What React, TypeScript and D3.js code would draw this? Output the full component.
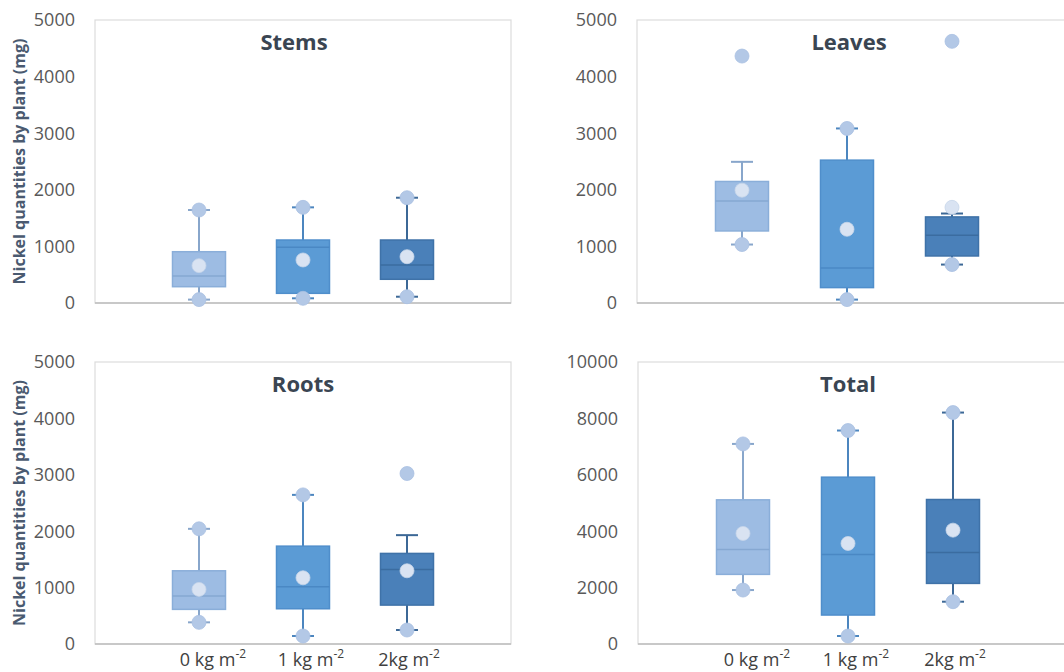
import React from "react";
import * as d3 from "d3";

const categories = ["0 kg m", "1 kg m", "2kg m"];
const catSup = ["-2", "-2", "-2"];

// [min, q1, median, q3, max]
const stemsStats = [[60, 288, 477, 906, 1643], [83, 171, 984, 1113, 1690], [111, 419, 671, 1113, 1860]];
const stemsMeans = [660, 760, 818];
const stemsPoints = [[60, 1643], [83, 1690], [111, 1860]];

const leavesStats = [[1033, 1273, 1804, 2147, 2494], [60, 272, 619, 2524, 3084], [679, 831, 1197, 1521, 1581]];
const leavesMeans = [1993, 1303, 1690];
const leavesPoints = [[1033, 4363], [60, 3084], [679, 4623]];

const rootsStats = [[384, 614, 850, 1298, 2042], [142, 625, 1015, 1735, 2644], [248, 690, 1322, 1606, 1930]];
const rootsMeans = [968, 1174, 1298];
const rootsPoints = [[384, 2042], [142, 2644], [248, 3023]];

const totalStats = [[1913, 2469, 3354, 5112, 7095], [283, 1027, 3177, 5916, 7570], [1500, 2149, 3247, 5124, 8207]];
const totalMeans = [3921, 3566, 4038];
const totalPoints = [[1913, 7095], [283, 7570], [1500, 8207]];

const ticks5000 = [0, 1000, 2000, 3000, 4000, 5000];
const ticks10000 = [0, 2000, 4000, 6000, 8000, 10000];

const titles = ["Stems", "Leaves", "Roots", "Total"];
const yTitle = "Nickel quantities by plant (mg)";

const boxFill = ["#9dbce3", "#5b9bd5", "#4a80b9"];
const boxStroke = ["#8aaed9", "#4f8ecb", "#3f72a8"];
const medianStroke = ["#86a8d2", "#4a88c4", "#3b6ca0"];
const whiskerStroke = ["#88a6cb", "#4c86bf", "#3c6896"];

const FONT = "'Open Sans', 'Noto Sans', sans-serif";

type PanelProps = {
  left: number; top: number; bottom: number; width: number; extra: number;
  max: number; ticks: number[]; title: string;
  stats: number[][]; means: number[]; points: number[][];
  showX: boolean; showYTitle: boolean; titleDx: number;
};

function Panel(p: PanelProps) {
  const y = d3.scaleLinear().domain([0, p.max]).range([p.bottom, p.top]);
  const x = d3.scaleLinear().domain([0, 4]).range([p.left, p.left + p.width]);
  const bw = 53;
  const cap = 22;
  const r = 7;
  return (
    <g>
      <rect x={p.left} y={p.top} width={p.width + p.extra} height={p.bottom - p.top} fill="none" stroke="#dcdcdc" strokeWidth={1.2} />
      <line x1={p.left} x2={p.left + p.width + p.extra} y1={p.bottom} y2={p.bottom} stroke="#bcbcbc" strokeWidth={1.6} />
      {p.ticks.map((t) => (
        <text key={t} x={p.left - 20} y={y(t)} dy="0.36em" textAnchor="end" fontFamily={FONT} fontSize={18} fill="#595959">{t}</text>
      ))}
      <text x={(p.left + p.left + p.width) / 2 + p.titleDx} y={p.top + 30} textAnchor="middle" fontFamily={FONT} fontWeight="bold" fontSize={22} fill="#3a4552">{p.title}</text>
      {p.showYTitle && (
        <text transform={`translate(${19},${(p.top + p.bottom) / 2}) rotate(-90)`} textAnchor="middle" dy="0.35em" fontFamily={FONT} fontWeight="bold" fontSize={16} fill="#4a5a70">{yTitle}</text>
      )}
      {p.stats.map((s, i) => {
        const cx = x(i + 1);
        const [mn, q1, md, q3, mx] = s;
        return (
          <g key={i}>
            <line x1={cx} x2={cx} y1={y(mx)} y2={y(q3)} stroke={whiskerStroke[i]} strokeWidth={2} />
            <line x1={cx} x2={cx} y1={y(q1)} y2={y(mn)} stroke={whiskerStroke[i]} strokeWidth={2} />
            <line x1={cx - cap / 2} x2={cx + cap / 2} y1={y(mx)} y2={y(mx)} stroke={whiskerStroke[i]} strokeWidth={2} />
            <line x1={cx - cap / 2} x2={cx + cap / 2} y1={y(mn)} y2={y(mn)} stroke={whiskerStroke[i]} strokeWidth={2} />
            <rect x={cx - bw / 2} y={y(q3)} width={bw} height={y(q1) - y(q3)} fill={boxFill[i]} stroke={boxStroke[i]} strokeWidth={1.5} />
            <line x1={cx - bw / 2} x2={cx + bw / 2} y1={y(md)} y2={y(md)} stroke={medianStroke[i]} strokeWidth={1.5} />
            {p.points[i].map((v, j) => (
              <circle key={j} cx={cx} cy={y(v)} r={r} fill="#b3c8e6" stroke="#a9c0e2" strokeWidth={0.8} />
            ))}
            <circle cx={cx} cy={y(p.means[i])} r={r} fill="#d9e3f2" stroke="#c7d5ea" strokeWidth={0.8} />
            {p.showX && (
              <text x={cx + 14 - i * 6} y={666} textAnchor="middle" fontFamily={FONT} fontSize={18} fill="#404040">
                {categories[i]}
                <tspan dy={-8} fontSize={12}>{catSup[i]}</tspan>
              </text>
            )}
          </g>
        );
      })}
    </g>
  );
}

export default function App() {
  return (
    <svg width={1064} height={672} style={{ position: "absolute", left: 0, top: 0, background: "#ffffff" }}>
      <rect x={0} y={0} width={1064} height={672} fill="#ffffff" />
      <Panel left={95} top={20} bottom={303} width={416} extra={0} max={5000} ticks={ticks5000} title={titles[0]}
        stats={stemsStats} means={stemsMeans} points={stemsPoints} showX={false} showYTitle={true} titleDx={-9} />
      <Panel left={637} top={20} bottom={303} width={420} extra={40} max={5000} ticks={ticks5000} title={titles[1]}
        stats={leavesStats} means={leavesMeans} points={leavesPoints} showX={false} showYTitle={false} titleDx={2} />
      <Panel left={95} top={362} bottom={644} width={416} extra={0} max={5000} ticks={ticks5000} title={titles[2]}
        stats={rootsStats} means={rootsMeans} points={rootsPoints} showX={true} showYTitle={true} titleDx={0} />
      <Panel left={638} top={362} bottom={644} width={420} extra={40} max={10000} ticks={ticks10000} title={titles[3]}
        stats={totalStats} means={totalMeans} points={totalPoints} showX={true} showYTitle={false} titleDx={0} />
    </svg>
  );
}
